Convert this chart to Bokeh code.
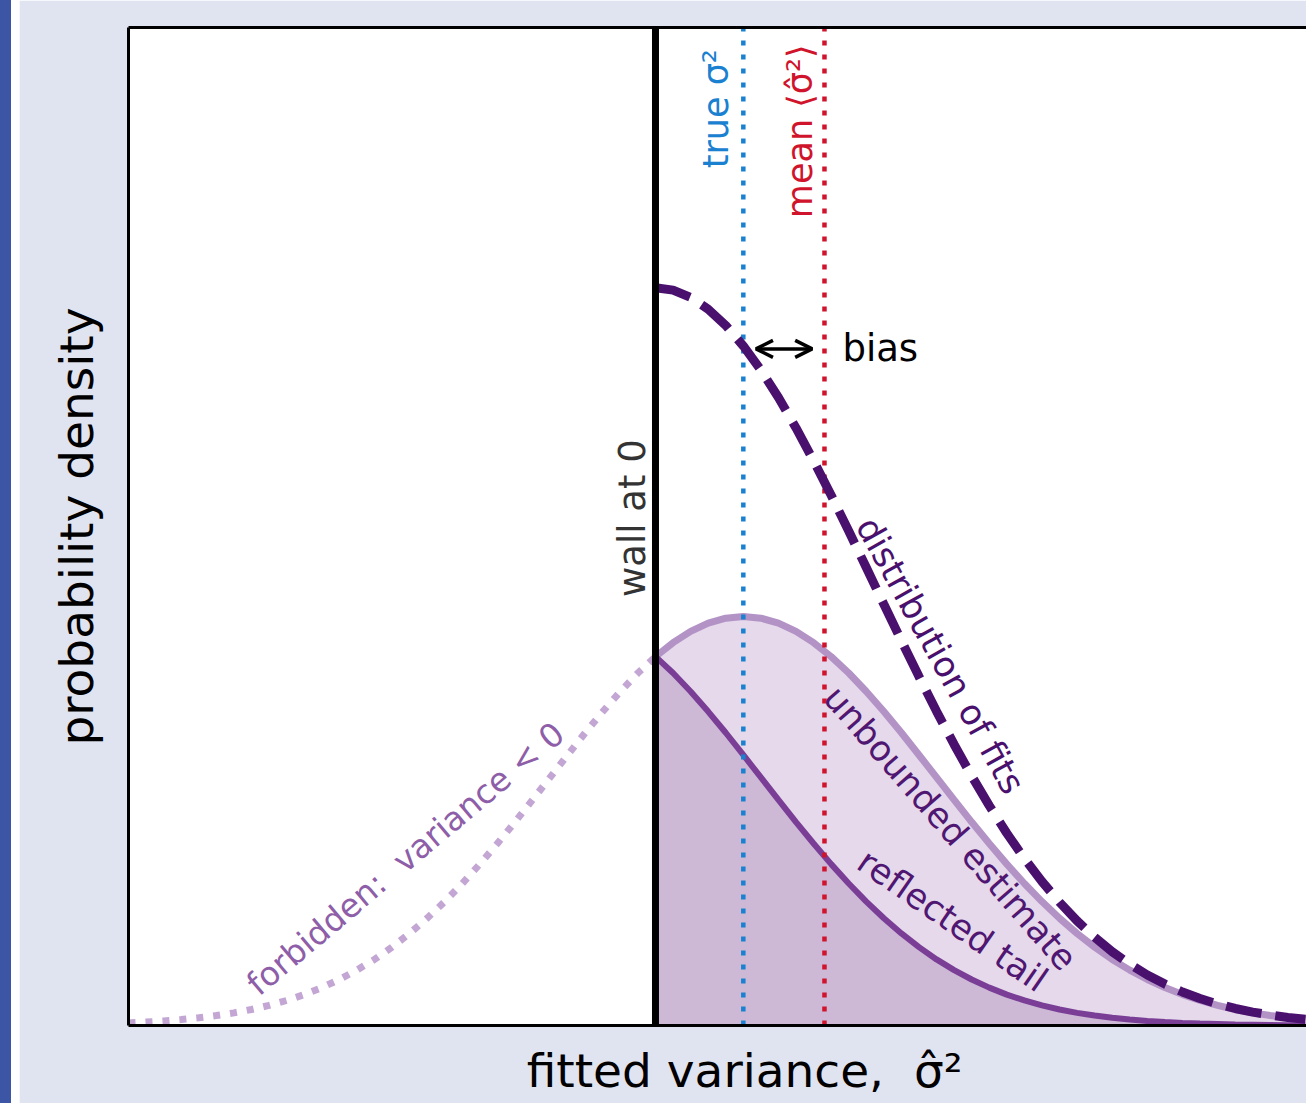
from bokeh.plotting import figure
from bokeh.models import Label, Arrow, OpenHead, LinearAxis, FixedTicker, Range1d, Spacer
from bokeh.layouts import row
from bokeh.embed import file_html
from bokeh.resources import INLINE

# ---------------- data ----------------
x_right = [0.0, 0.1, 0.2, 0.3, 0.4, 0.5, 0.6, 0.7, 0.8, 0.9,
           1.0, 1.1, 1.2, 1.3, 1.4, 1.5, 1.6, 1.7, 1.8, 1.9,
           2.0, 2.1, 2.2, 2.3, 2.4, 2.5, 2.6, 2.7, 2.8, 2.9,
           3.0, 3.1, 3.2, 3.3, 3.4, 3.5, 3.6, 3.7]
unbounded = [0.3271, 0.3395, 0.3495, 0.3568, 0.3612, 0.3627, 0.3612, 0.3568, 0.3495, 0.3395,
             0.3271, 0.3126, 0.2962, 0.2784, 0.2596, 0.2399, 0.2200, 0.2001, 0.1804, 0.1614,
             0.1431, 0.1259, 0.1099, 0.0951, 0.0816, 0.0695, 0.0586, 0.0491, 0.0408, 0.0336,
             0.0274, 0.0222, 0.0178, 0.0142, 0.0112, 0.0088, 0.0068, 0.0053]
reflected = [0.3271, 0.3126, 0.2962, 0.2784, 0.2596, 0.2399, 0.2200, 0.2001, 0.1804, 0.1614,
             0.1431, 0.1259, 0.1099, 0.0951, 0.0816, 0.0695, 0.0586, 0.0491, 0.0408, 0.0336,
             0.0274, 0.0222, 0.0178, 0.0142, 0.0112, 0.0088, 0.0068, 0.0053, 0.0040, 0.0031,
             0.0023, 0.0017, 0.0013, 0.0009, 0.0007, 0.0005, 0.0003, 0.0002]
fits = [0.6542, 0.6521, 0.6457, 0.6352, 0.6208, 0.6026, 0.5812, 0.5569, 0.5299, 0.5009,
        0.4702, 0.4385, 0.4061, 0.3735, 0.3412, 0.3094, 0.2786, 0.2492, 0.2212, 0.1950,
        0.1705, 0.1481, 0.1277, 0.1093, 0.0928, 0.0783, 0.0654, 0.0544, 0.0448, 0.0367,
        0.0297, 0.0239, 0.0191, 0.0151, 0.0119, 0.0093, 0.0071, 0.0055]
x_left = [-3.0, -2.9, -2.8, -2.7, -2.6, -2.5, -2.4, -2.3, -2.2, -2.1,
          -2.0, -1.9, -1.8, -1.7, -1.6, -1.5, -1.4, -1.3, -1.2, -1.1,
          -1.0, -0.9, -0.8, -0.7, -0.6, -0.5, -0.4, -0.3, -0.2, -0.1, 0.0]
forbidden = [0.0023, 0.0031, 0.0040, 0.0053, 0.0068, 0.0088, 0.0112, 0.0142, 0.0178, 0.0222,
             0.0274, 0.0336, 0.0408, 0.0491, 0.0586, 0.0695, 0.0816, 0.0951, 0.1099, 0.1259,
             0.1431, 0.1614, 0.1804, 0.2001, 0.2200, 0.2399, 0.2596, 0.2784, 0.2962, 0.3126, 0.3271]
wall_x = 0.0
true_var = 0.5
mean_var = 0.962
x_lim = [-3.0, 3.706]
y_lim = [0.0, 0.885]

FONT = "DejaVu Sans"
BG = "#e0e4f0"
NB = "\u00a0"

p = figure(width=1287, height=1103, output_backend="svg", toolbar_location=None,
           x_range=Range1d(*x_lim), y_range=Range1d(*y_lim),
           min_border_left=109, min_border_right=0, min_border_top=27, min_border_bottom=78)
p.border_fill_color = BG
p.background_fill_color = "white"
p.outline_line_color = None
p.grid.visible = False

for ax in (p.xaxis[0], p.yaxis[0]):
    ax.ticker = FixedTicker(ticks=[])
    ax.major_tick_line_color = None
    ax.minor_tick_line_color = None
    ax.major_label_text_font_size = "0px"
    ax.axis_line_width = 3
    ax.axis_line_color = "black"
    ax.axis_label_text_font = FONT
    ax.axis_label_text_font_size = "47px"
    ax.axis_label_text_font_style = "normal"
    ax.axis_label_text_color = "black"

p.yaxis[0].axis_label = "probability density"
p.yaxis[0].axis_label_standoff = 25
p.xaxis[0].axis_label = NB * 3 + "\u2009" + "fitted variance," + NB + " σ̂²"
p.xaxis[0].axis_label_standoff = 17

top = LinearAxis(ticker=FixedTicker(ticks=[]), major_tick_line_color=None, minor_tick_line_color=None,
                 major_label_text_font_size="0px", axis_line_width=3, axis_line_color="black")
p.add_layout(top, "above")

# fills
p.varea(x=x_right, y1=[0.0] * len(x_right), y2=unbounded, fill_color="#e5d9eb")
p.varea(x=x_right, y1=[0.0] * len(x_right), y2=reflected, fill_color="#cdb8d6")

# curves
p.line(x_left, forbidden, line_color="#c3a6d3", line_width=7, line_dash="7 10")
p.line(x_right, unbounded, line_color="#b393c6", line_width=7)
p.line(x_right, reflected, line_color="#7a3e96", line_width=6)

# verticals
p.segment(x0=[true_var], y0=[y_lim[0]], x1=[true_var], y1=[y_lim[1]],
          line_color="#1a80d0", line_width=4.5, line_dash="5 9")
p.segment(x0=[mean_var], y0=[y_lim[0]], x1=[mean_var], y1=[y_lim[1]],
          line_color="#d0142c", line_width=4.5, line_dash="5 9")

p.line(x_right, fits, line_color="#4a106e", line_width=9, line_dash="36 14")

p.segment(x0=[wall_x], y0=[y_lim[0]], x1=[wall_x], y1=[y_lim[1]], line_color="black", line_width=7)

# arrow
p.add_layout(Arrow(start=OpenHead(size=17, line_width=3.5, line_color="black"),
                   end=OpenHead(size=17, line_width=3.5, line_color="black"),
                   x_start=0.572, y_start=0.600, x_end=0.892, y_end=0.600,
                   line_width=3.5, line_color="black"))


def lab(x, y, text, size, color, angle=0.0, align="center"):
    p.add_layout(Label(x=x, y=y, text=text, text_font=FONT, text_font_size=size,
                       text_color=color, angle=angle, text_align=align,
                       text_baseline="middle"))


lab(1.064, 0.600, "bias", "37px", "black", align="left")
lab(-0.131, 0.450, "wall at 0", "37px", "#333333", angle=1.5708)
lab(0.347, 0.813, "true σ²", "35px", "#1a80d0", angle=1.5708)
lab(0.825, 0.793, "mean ⟨σ̂²⟩", "35px", "#d0142c", angle=1.5708)
lab(1.622, 0.328, "distribution of fits", "35px", "#4a106e", angle=-1.065)
lab(1.679, 0.175, "unbounded estimate", "35px", "#4f1672", angle=-0.853)
lab(1.691, 0.093, "reflected tail", "35px", "#4f1672", angle=-0.605)
lab(-1.423, 0.148, "forbidden:" + NB + " variance < 0", "33px", "#8e5fa8", angle=0.70)

strip = Spacer(width=11, height=1103, margin=0, styles={"background-color": "#3c56a5"})
gap = Spacer(width=8, height=1103, margin=0, styles={"background-color": "white"})
layout = row(strip, gap, p, spacing=0)

open("out.html", "w").write(file_html(layout, INLINE))
